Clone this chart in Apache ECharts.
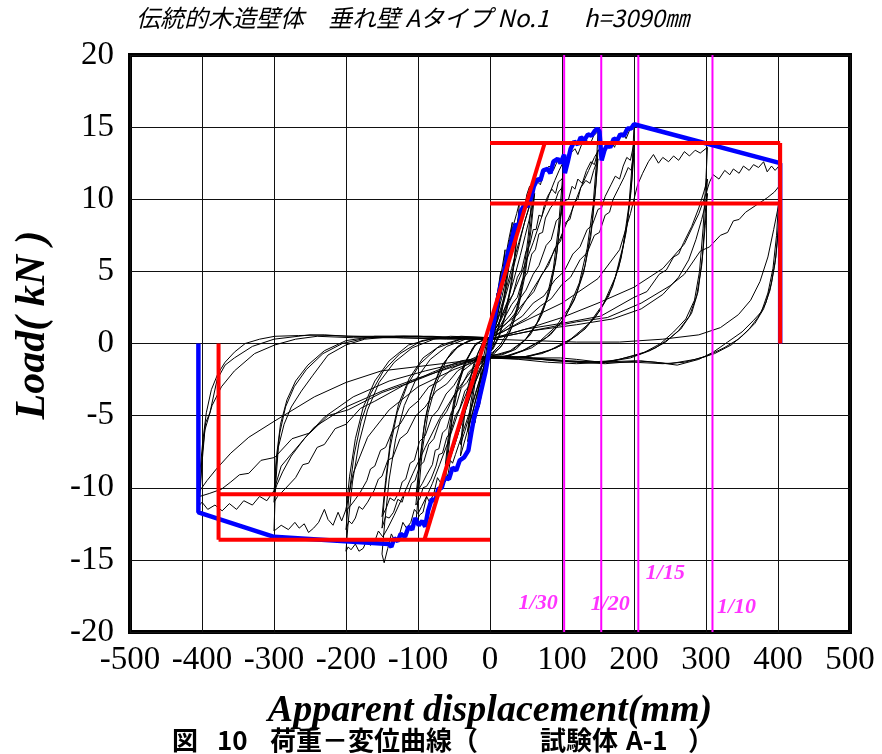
<!DOCTYPE html>
<html>
<head>
<meta charset="utf-8">
<script src="https://cdn.jsdelivr.net/npm/echarts@6/dist/echarts.min.js"></script>
<style>
html, body { margin: 0; padding: 0; background: #fff; }
#chart { width: 882px; height: 754px; }
</style>
</head>
<body>
<div id="chart"></div>
<script>
// Cyclic load test of a traditional timber wall: displacement (mm) vs load (kN).
// Each cycle: push to +peak, unload, push to -peak, unload back near the origin.
const cycA = [[0,0],[4,1.4],[7,2.5],[10,3.5],[8,2.5],[5,1.1],[2,0.1],[0,-0.3],[-4,-1.3],[-7,-2.3],[-10,-3.1],[-8,-2.1],[-5,-0.9],[-2,0.1],[0,0.3]];
const cycB = [[0,0.3],[5,1.8],[10,3.4],[15,5.0],[12,3.5],[8,1.6],[4,0.3],[0,-0.4],[-5,-1.6],[-10,-3.0],[-15,-4.4],[-12,-3.0],[-8,-1.4],[-4,-0.1],[0,0.3]];
const cycC = [[0,0.3],[6,1.9],[12,3.8],[17,5.3],[21,6.5],[17,4.5],[12,2.3],[6,0.6],[0,-0.4],[-6,-1.7],[-12,-3.2],[-17,-4.5],[-21,-5.5],[-17,-3.7],[-12,-1.7],[-6,-0.2],[0,0.3]];
const cycD1 = [[0,0.3],[8,2.2],[15,4.2],[21,5.8],[26,7.2],[31,8.4],[27,6.3],[21,3.8],[14,1.6],[7,0.3],[0,-0.5],[-8,-1.9],[-15,-3.5],[-21,-4.8],[-26,-5.9],[-31,-6.8],[-27,-4.9],[-21,-2.8],[-14,-1.0],[-6,0.1],[0,0.4]];
const cycD2 = [[0,0.4],[9,2.0],[17,3.9],[24,5.7],[31,7.6],[27,5.6],[20,3.1],[12,1.1],[4,-0.2],[0,-0.6],[-9,-1.8],[-17,-3.3],[-24,-4.8],[-31,-6.1],[-27,-4.2],[-20,-2.1],[-11,-0.5],[0,0.4]];
const cycE1 = [[0,0.4],[6,1.8],[12,3.4],[18,4.9],[24,6.4],[29,7.6],[33,8.3],[37,9.0],[41,9.8],[38,8.1],[34,6.0],[28,3.8],[20,1.8],[12,0.5],[4,-0.3],[0,-0.6],[-8,-1.7],[-16,-3.2],[-24,-4.7],[-31,-6.0],[-36,-6.9],[-41,-7.8],[-38,-6.1],[-33,-4.1],[-26,-2.2],[-17,-0.7],[-8,0.2],[0,0.4]];
const cycE2 = [[0,0.4],[8,1.6],[16,3.1],[24,4.9],[30,6.3],[35,7.5],[39,8.5],[41,9.0],[37,7.1],[31,4.5],[23,2.2],[13,0.5],[4,-0.4],[0,-0.6],[-10,-1.8],[-20,-3.5],[-28,-4.9],[-35,-6.1],[-41,-7.0],[-37,-5.2],[-31,-3.1],[-22,-1.3],[-11,0],[0,0.4]];
const cycF1 = [[0,0.4],[8,1.9],[16,3.6],[24,5.5],[30,6.8],[36,8.0],[41,9.0],[45,9.6],[48,9.3],[51,10.3],[55,10.9],[58,10.5],[60,11.3],[62,11.8],[58,10.0],[53,7.4],[46,4.6],[37,2.4],[26,0.9],[14,-0.1],[4,-0.6],[0,-0.7],[-10,-1.8],[-20,-3.4],[-30,-5.0],[-38,-6.2],[-44,-7.1],[-48,-7.7],[-52,-8.3],[-55,-8.1],[-58,-9.0],[-62,-9.6],[-58,-7.6],[-52,-5.0],[-44,-2.9],[-33,-1.2],[-20,-0.1],[-8,0.3],[0,0.4]];
const cycF2 = [[0,0.4],[10,1.5],[20,3.0],[30,4.8],[38,6.3],[44,7.6],[49,8.6],[53,9.2],[57,9.9],[60,10.4],[62,11.0],[57,8.5],[50,5.5],[41,3.0],[30,1.1],[17,-0.1],[6,-0.7],[0,-0.8],[-12,-1.7],[-24,-3.1],[-34,-4.6],[-42,-5.9],[-49,-7.0],[-55,-7.9],[-59,-8.4],[-62,-8.9],[-57,-6.6],[-49,-3.9],[-38,-1.8],[-24,-0.3],[-10,0.3],[0,0.4]];
const cycF3 = [[0,0.4],[12,1.4],[24,2.9],[34,4.6],[42,6.1],[49,7.5],[54,8.5],[58,9.4],[62,10.4],[57,7.9],[49,4.8],[39,2.4],[27,0.7],[14,-0.3],[0,-0.8],[-13,-1.6],[-26,-3.0],[-37,-4.6],[-46,-6.0],[-53,-7.2],[-58,-7.9],[-62,-8.4],[-57,-6.0],[-48,-3.3],[-36,-1.4],[-20,0],[0,0.4]];
const cycG1 = [[0,0.4],[10,1.6],[20,3.3],[30,5.2],[40,7.0],[48,8.4],[55,9.6],[60,10.6],[64,11.3],[70,11.0],[75,11.9],[82,12.3],[88,12.0],[94,12.7],[99,12.5],[103,13.1],[100,11.0],[95,8.0],[88,5.2],[78,3.0],[65,1.4],[48,0.2],[30,-0.5],[12,-0.8],[0,-0.8],[-12,-1.6],[-25,-3.3],[-37,-5.1],[-47,-6.7],[-55,-7.9],[-62,-8.9],[-68,-9.7],[-73,-9.3],[-78,-10.4],[-84,-11.0],[-88,-10.6],[-93,-11.7],[-98,-11.9],[-103,-12.5],[-99,-10.2],[-94,-7.4],[-86,-4.8],[-75,-2.8],[-60,-1.1],[-42,-0.1],[-22,0.3],[0,0.4]];
const cycG2 = [[0,0.4],[12,1.4],[25,2.9],[32,3.4],[38,4.6],[44,5.1],[50,6.4],[55,6.8],[60,7.9],[64,7.9],[68,8.9],[72,8.8],[75,9.5],[80,10.2],[86,10.7],[91,10.4],[95,11.2],[100,11.4],[103,11.8],[99,9.4],[93,6.3],[84,3.8],[72,2.0],[56,0.6],[36,-0.4],[16,-0.8],[0,-0.8],[-14,-1.4],[-28,-2.9],[-35,-3.3],[-42,-4.5],[-48,-5.0],[-55,-6.2],[-60,-6.5],[-66,-7.6],[-71,-7.7],[-75,-8.5],[-82,-9.4],[-88,-9.9],[-93,-10.0],[-97,-10.7],[-103,-11.2],[-98,-8.6],[-92,-5.9],[-83,-3.6],[-70,-1.8],[-52,-0.5],[-30,0.2],[0,0.4]];
const cycG3 = [[0,0.4],[15,1.3],[30,2.7],[38,3.2],[45,4.4],[52,4.9],[58,6.2],[63,6.5],[68,7.6],[73,7.7],[77,8.7],[84,9.4],[90,9.8],[95,10.5],[100,10.8],[103,11.2],[98,8.6],[91,5.6],[81,3.3],[68,1.6],[50,0.3],[28,-0.5],[0,-0.9],[-16,-1.3],[-32,-2.7],[-40,-3.1],[-47,-4.3],[-54,-4.8],[-60,-5.9],[-66,-6.2],[-71,-7.3],[-76,-7.4],[-80,-8.4],[-88,-9.1],[-94,-9.7],[-99,-10.1],[-103,-10.6],[-97,-7.9],[-90,-5.2],[-80,-3.1],[-65,-1.4],[-45,-0.2],[-22,0.3],[0,0.4]];
const cycH1 = [[0,0.4],[15,1.6],[30,3.2],[45,5.0],[60,7.0],[72,8.8],[82,10.3],[90,11.3],[96,12.0],[102,12.6],[107,12.3],[112,13.2],[118,13.5],[122,13.1],[128,13.9],[134,14.1],[139,13.8],[144,14.4],[150,14.7],[148,12.6],[143,9.5],[135,6.6],[124,4.2],[110,2.5],[92,1.2],[70,0.2],[45,-0.5],[20,-0.9],[0,-0.9],
  [-15,-1.5],[-30,-3.1],[-45,-4.9],[-58,-6.8],[-70,-8.4],[-80,-9.7],[-88,-10.6],[-95,-11.3],[-100,-11.8],[-105,-11.5],[-110,-12.4],[-116,-12.8],[-121,-12.4],[-126,-13.3],[-132,-13.7],[-137,-13.2],[-142,-14.2],[-147,-15.2],[-150,-14.6],[-146,-12.3],[-140,-9.4],[-131,-6.6],[-119,-4.3],[-103,-2.5],[-83,-1.1],[-60,-0.2],[-34,0.3],[0,0.4]];
const cycH2 = [[0,0.4],[10,0.9],[20,1.5],[30,2.1],[40,3.0],[50,3.7],[60,4.8],[68,5.4],[78,6.8],[85,7.2],[92,8.5],[98,8.8],[104,9.9],[109,10.0],[114,10.9],[118,10.7],[122,11.4],[128,11.1],[134,12.0],[140,12.6],[145,12.4],[150,13.4],[147,11.0],[141,8.0],[132,5.4],[120,3.4],[104,1.8],[84,0.6],[58,-0.3],[30,-0.8],[0,-1.0],
  [-10,-0.9],[-20,-1.5],[-30,-2.0],[-40,-3.0],[-50,-3.6],[-60,-4.7],[-69,-5.3],[-78,-6.6],[-85,-7.0],[-92,-8.2],[-98,-8.5],[-104,-9.5],[-109,-9.7],[-114,-10.5],[-118,-10.3],[-122,-11.0],[-128,-10.8],[-134,-11.7],[-140,-12.1],[-145,-12.0],[-150,-12.8],[-146,-10.3],[-139,-7.3],[-129,-4.8],[-115,-2.9],[-97,-1.4],[-73,-0.3],[-40,0.3],[0,0.4]];
const cycH3 = [[0,0.4],[12,0.9],[25,1.5],[38,2.0],[50,3.0],[61,3.6],[72,4.8],[81,5.4],[90,6.6],[98,7.1],[105,8.4],[111,8.6],[117,9.8],[122,10.0],[126,10.8],[133,11.3],[139,11.1],[144,12.0],[150,12.8],[146,10.3],[140,7.4],[130,4.9],[117,3.0],[100,1.5],[78,0.4],[50,-0.4],[24,-0.9],[0,-1.0],
  [-12,-0.9],[-25,-1.4],[-38,-1.9],[-50,-2.9],[-61,-3.5],[-72,-4.6],[-81,-5.1],[-90,-6.4],[-98,-6.8],[-105,-8.1],[-111,-8.3],[-117,-9.4],[-122,-9.6],[-126,-10.3],[-133,-10.9],[-139,-10.7],[-144,-11.4],[-150,-12.0],[-145,-9.5],[-138,-6.6],[-127,-4.2],[-112,-2.4],[-93,-1.0],[-68,-0.1],[-35,0.4],[0,0.4]];
const cycI1 = [[0,0.4],[25,1.5],[50,3.0],[75,5.0],[95,7.0],[112,9.0],[126,10.8],[137,12.0],[145,12.9],[152,13.5],[158,13.1],[163,13.8],[168,14.0],[173,13.6],[178,14.4],[184,14.6],[189,14.2],[194,14.8],[200,15.1],[198,12.8],[193,9.6],[185,6.8],[174,4.6],[158,2.8],[138,1.4],[112,0.3],[82,-0.5],[50,-0.9],[20,-1.0],[0,-0.9],
  [-20,-1.5],[-45,-3.2],[-70,-5.2],[-90,-7.2],[-107,-9.0],[-121,-10.6],[-133,-11.9],[-142,-12.8],[-149,-13.4],[-155,-13.0],[-160,-13.7],[-166,-14.0],[-171,-13.6],[-176,-14.2],[-182,-14.4],[-187,-13.9],[-193,-14.3],[-197,-14.1],[-200,-14.4],[-197,-12.4],[-191,-9.6],[-182,-6.9],[-170,-4.6],[-154,-2.7],[-133,-1.3],[-108,-0.3],[-78,0.3],[-40,0.5],[0,0.4]];
const cycI2 = [[0,0.4],[15,0.8],[30,1.4],[45,1.9],[60,2.8],[75,3.3],[90,4.4],[103,5.0],[115,6.2],[125,6.7],[135,7.9],[142,8.2],[150,9.3],[155,9.4],[160,10.2],[168,11.0],[174,11.6],[180,11.4],[185,12.3],[190,12.9],[195,12.7],[200,13.9],[197,11.4],[191,8.4],[182,5.9],[170,3.9],[153,2.3],[132,1.0],[105,0],[72,-0.7],[38,-1.0],[0,-1.0],
  [-15,-0.9],[-30,-1.4],[-45,-1.9],[-60,-2.8],[-75,-3.3],[-90,-4.4],[-103,-5.0],[-115,-6.2],[-125,-6.6],[-135,-7.9],[-142,-8.1],[-150,-9.2],[-155,-9.4],[-161,-10.2],[-170,-11.0],[-177,-11.5],[-182,-11.3],[-187,-12.1],[-192,-12.5],[-196,-12.3],[-200,-12.9],[-196,-10.6],[-189,-7.8],[-179,-5.4],[-166,-3.5],[-148,-1.9],[-125,-0.7],[-95,0.2],[-55,0.5],[0,0.4]];
const cycI3 = [[0,0.4],[18,0.8],[35,1.3],[52,1.8],[70,2.6],[85,3.1],[100,4.1],[112,4.6],[125,5.8],[135,6.3],[145,7.5],[152,7.7],[160,8.9],[166,9.1],[171,10.0],[180,10.9],[186,11.5],[192,12.2],[196,12.0],[200,13.2],[196,10.6],[189,7.7],[179,5.3],[165,3.3],[146,1.8],[122,0.6],[92,-0.3],[55,-0.9],[0,-1.0],
  [-18,-0.9],[-35,-1.3],[-52,-1.7],[-70,-2.6],[-85,-3.0],[-100,-4.0],[-112,-4.5],[-125,-5.6],[-135,-6.0],[-145,-7.2],[-152,-7.4],[-160,-8.5],[-166,-8.7],[-171,-9.5],[-180,-10.3],[-187,-10.8],[-193,-11.2],[-200,-11.6],[-195,-9.2],[-187,-6.6],[-176,-4.4],[-160,-2.6],[-140,-1.2],[-113,-0.1],[-75,0.4],[0,0.4]];
const cycJ1 = [[0,0.4],[50,1.6],[100,2.8],[150,4.5],[180,6.5],[195,9.0],[205,11.0],[212,11.8],[220,12.6],[227,13.1],[234,12.5],[240,12.9],[248,12.6],[255,13.0],[262,12.7],[270,13.3],[277,13.0],[285,13.4],[292,13.2],[302,13.6],[300,11.5],[296,8.0],[291,5.0],[284,3.0],[272,1.7],[255,0.8],[237,0],[215,-0.6],[180,-1.1],[154,-1.3],[120,-1.1],[98,-1.0],[60,-1.0],[30,-0.9],[0,-0.9],
  [-50,-1.8],[-100,-3.0],[-140,-4.6],[-170,-6.5],[-190,-9.0],[-200,-11.5],[-206,-12.3],[-211,-11.7],[-218,-12.6],[-225,-12.2],[-230,-11.5],[-238,-12.4],[-245,-12.8],[-252,-13.1],[-258,-12.5],[-265,-12.8],[-271,-12.4],[-280,-12.9],[-290,-12.6],[-300,-13.0],[-298,-10.0],[-294,-7.2],[-286,-5.6],[-276,-4.4],[-262,-3.3],[-246,-2.2],[-225,-0.8],[-200,-0.1],[-174,0.3],[-130,0.5],[-80,0.5],[-40,0.4],[0,0.3]];
const cycJ2 = [[0,0.3],[50,1.0],[100,1.4],[154,1.9],[200,3.2],[218,3.6],[235,4.8],[245,5.1],[255,6.0],[262,6.2],[269,7.0],[280,8.1],[290,9.4],[297,10.5],[302,11.4],[299,9.0],[295,6.0],[289,3.6],[280,2.1],[265,1.0],[248,0.3],[230,-0.3],[205,-0.8],[170,-1.2],[130,-1.3],[90,-1.2],[50,-1.0],[0,-0.9],
  [-40,-1.2],[-80,-2.0],[-120,-2.9],[-160,-4.0],[-180,-4.5],[-200,-5.6],[-215,-5.9],[-230,-7.0],[-240,-7.2],[-252,-8.3],[-260,-8.4],[-270,-9.3],[-285,-10.1],[-295,-10.6],[-300,-11.0],[-297,-8.5],[-292,-6.2],[-284,-4.4],[-272,-3.0],[-255,-1.8],[-232,-0.7],[-205,0],[-170,0.4],[-120,0.5],[-60,0.4],[0,0.3]];
const cycJ3 = [[0,0.3],[60,0.9],[120,1.3],[170,1.7],[210,2.4],[240,3.4],[262,4.6],[276,5.8],[286,7.2],[294,8.6],[299,9.6],[302,10.4],[299,8.2],[294,5.4],[287,3.3],[277,1.9],[262,0.9],[244,0.1],[222,-0.5],[195,-1.0],[160,-1.3],[120,-1.4],[80,-1.3],[40,-1.1],[0,-1.0],
  [-40,-1.3],[-90,-1.9],[-140,-2.6],[-190,-3.7],[-230,-5.1],[-258,-6.6],[-276,-7.8],[-288,-8.9],[-296,-9.8],[-300,-10.4],[-297,-8.0],[-291,-5.6],[-282,-3.9],[-270,-2.6],[-253,-1.5],[-230,-0.5],[-200,0.2],[-160,0.5],[-100,0.5],[-50,0.4],[0,0.3]];
const cycK1 = [[0,0.3],[50,1.0],[100,1.8],[150,2.8],[200,3.9],[240,5.2],[270,6.9],[290,9.0],[300,10.4],[305,11.2],[310,11.7],[318,11.4],[326,12.0],[333,11.7],[338,12.1],[346,11.8],[352,12.3],[360,12.0],[366,12.4],[373,12.2],[380,12.6],[385,11.9],[391,12.3],[396,12.0],[403,12.4],[401,10.0],[398,7.5],[393,5.2],[386,3.5],[377,2.2],[366,1.6],[350,0.8],[330,0.1],[310,-0.6],[290,-1.1],[260,-1.5],[230,-1.3],[200,-1.2],[150,-1.3],[110,-1.2],[60,-1.0],[0,-0.9],
  [-50,-1.6],[-100,-2.4],[-150,-3.3],[-200,-4.4],[-244,-5.8],[-275,-7.6],[-290,-8.5],[-300,-10.2],[-310,-10.9],[-320,-10.6],[-330,-11.2],[-342,-10.9],[-352,-11.5],[-362,-11.1],[-372,-11.6],[-382,-11.2],[-392,-11.5],[-400,-11.0],[-405,-11.3],[-403,-9.0],[-399,-6.8],[-394,-4.8],[-387,-3.2],[-378,-2.1],[-368,-1.3],[-355,-0.6],[-340,0],[-320,0.3],[-299,0.5],[-266,0.55],[-230,0.6],[-197,0.5],[-150,0.5],[-100,0.5],[-50,0.4],[0,0.3]];
const cycK2 = [[0,0.3],[60,0.9],[120,1.5],[163,1.8],[210,2.8],[250,4.0],[270,4.8],[292,6.4],[305,6.7],[320,7.5],[330,7.7],[338,8.5],[346,8.6],[355,9.1],[370,9.6],[385,10.1],[395,10.5],[403,11.0],[401,8.5],[397,6.0],[391,4.2],[383,2.8],[372,1.8],[360,1.0],[345,0.3],[325,-0.3],[300,-0.9],[270,-1.3],[240,-1.4],[200,-1.3],[150,-1.3],[100,-1.2],[50,-1.0],[0,-0.9],
  [-50,-1.5],[-105,-2.6],[-150,-3.4],[-197,-4.6],[-225,-5.0],[-250,-6.2],[-275,-6.6],[-299,-7.9],[-318,-8.1],[-335,-9.0],[-348,-9.1],[-360,-9.6],[-373,-10.1],[-390,-10.4],[-403,-10.6],[-400,-8.3],[-396,-6.0],[-386,-4.3],[-373,-3.0],[-355,-1.9],[-327,-0.7],[-299,-0.1],[-270,0.3],[-240,0.5],[-190,0.4],[-130,0.4],[-60,0.3],[0,0.3]];
const cycK3 = [[0,0.3],[60,0.2],[120,0.1],[180,0.1],[240,0.3],[290,0.6],[320,1.1],[345,2.0],[362,3.0],[375,4.3],[386,6.0],[394,7.9],[400,9.4],[403,10.3],[401,8.0],[396,5.6],[389,3.7],[380,2.4],[368,1.4],[352,0.6],[335,-0.1],[312,-0.7],[285,-1.1],[250,-1.4],[209,-1.2],[160,-1.4],[120,-1.3],[70,-1.1],[0,-1.0],
  [-50,-1.3],[-100,-1.6],[-151,-1.9],[-200,-2.7],[-244,-3.7],[-300,-5.4],[-335,-6.5],[-360,-7.6],[-380,-8.7],[-393,-9.5],[-403,-10.2],[-400,-7.8],[-395,-5.5],[-389,-4.8],[-379,-2.5],[-368,-1.5],[-355,-1.0],[-330,-0.2],[-300,0.3],[-250,0.6],[-190,0.5],[-120,0.4],[0,0.3]];

const hysteresisCycles = [cycA, cycB, cycC, cycD1, cycD2, cycE1, cycE2, cycF1, cycF2, cycF3,
  cycG1, cycG2, cycG3, cycH1, cycH2, cycH3, cycI1, cycI2, cycI3, cycJ1, cycJ2, cycJ3, cycK1, cycK2, cycK3];

// Envelope (skeleton) curves, traced outward from the origin
const envelopePos = [[0,0],[4,1.1],[9,2.6],[15,4.1],[20,5.0],[25,6.3],[29,6.9],[33,7.8],[36,8.3],[40,8.0],[43,9.2],[48,9.6],[52,9.5],[57,10.1],[61,10.9],[66,11.4],[70,11.3],[74,12.0],[80,12.1],[84,11.8],[88,12.6],[94,12.8],[98,12.5],[103,13.1],[104,11.8],[108,12.6],[112,13.5],[117,14.0],[122,13.8],[126,14.3],[131,14.1],[136,14.5],[141,14.4],[145,14.7],[149,14.9],[152,14.7],[155,12.7],[159,13.4],[163,13.8],[167,13.6],[172,14.2],[177,14.1],[181,14.5],[186,14.4],[191,14.9],[196,14.9],[200,15.2],[403,12.5],[403,0]];
const envelopeNeg = [[0,0],[-1,-0.5],[-6,-1.9],[-12,-3.2],[-17,-4.3],[-22,-5.1],[-26,-6.2],[-30,-7.4],[-36,-7.9],[-42,-8.1],[-47,-8.8],[-52,-8.6],[-57,-9.4],[-63,-9.3],[-67,-10.0],[-72,-10.1],[-76,-10.9],[-81,-10.8],[-86,-11.6],[-90,-12.7],[-94,-12.3],[-99,-12.6],[-104,-12.1],[-108,-12.9],[-113,-12.7],[-118,-13.4],[-124,-13.2],[-128,-13.7],[-133,-13.5],[-137,-14.1],[-141,-13.9],[-300,-13.4],[-405,-11.7],[-405,0]];

// Bilinear (trilinear) idealisation
const bilinearPosLevels = [13.9, 9.7];
const bilinearPosLimit = 403;
const bilinearNegLevels = [-13.6, -10.45];
const bilinearNegLimit = -377;
const initialStiffnessLine = [[-91, -13.6], [76, 13.9]];

// Storey drift reference lines (wall height h = 3090 mm)
const wallHeight = 3090;
const driftRatios = [30, 20, 15, 10];

// Axes
const xAxisRange = { min: -500, max: 500, step: 100 };
const yAxisRange = { min: -20, max: 20, step: 5 };

// ---- layout / styling ----
const driftLabelPlace = { 30: { y: -18.0, dx: -26 }, 20: { y: -18.1, dx: 9 }, 15: { y: -15.9, dx: 27 }, 10: { y: -18.3, dx: 24 } };
const serif = '"Liberation Serif", "Times New Roman", serif';

const series = [];
hysteresisCycles.forEach(function (c) {
  series.push({ type: 'line', data: c, symbol: 'none', silent: true, z: 2,
    lineStyle: { color: '#000', width: 1 } });
});
driftRatios.forEach(function (n) {
  const d = wallHeight / n;
  series.push({ type: 'line', data: [[d, yAxisRange.min], [d, yAxisRange.max]], symbol: 'none', silent: true, z: 3,
    lineStyle: { color: '#ff00ff', width: 2 } });
  const p = driftLabelPlace[n];
  series.push({ type: 'scatter', data: [[d, p.y]], symbolSize: 0, silent: true, z: 6,
    label: { show: true, position: 'inside', offset: [p.dx, 0], formatter: '1/' + n,
      color: '#ff00ff', fontFamily: serif, fontStyle: 'italic', fontWeight: 'bold', fontSize: 22 } });
});
series.push({ type: 'line', data: envelopeNeg.slice().reverse().concat(envelopePos.slice(1)), symbol: 'none', silent: true, z: 4,
  lineStyle: { color: '#0000ff', width: 4.5 } });

function redLine(pts) {
  series.push({ type: 'line', data: pts, symbol: 'none', silent: true, z: 5,
    lineStyle: { color: '#ff0000', width: 4 } });
}
bilinearPosLevels.forEach(function (v) { redLine([[0, v], [bilinearPosLimit, v]]); });
redLine([[bilinearPosLimit, bilinearPosLevels[0]], [bilinearPosLimit, 0]]);
bilinearNegLevels.forEach(function (v) { redLine([[bilinearNegLimit, v], [0, v]]); });
redLine([[bilinearNegLimit, 0], [bilinearNegLimit, bilinearNegLevels[0]]]);
redLine(initialStiffnessLine);

const jpFont = '"Noto Sans CJK JP"';
const chart = echarts.init(document.getElementById('chart'), null, { renderer: 'canvas' });
chart.setOption({
  animation: false,
  backgroundColor: '#fff',
  grid: { left: 130, right: 32, top: 55, bottom: 122, show: true, borderColor: '#000', borderWidth: 4, backgroundColor: 'transparent' },
  xAxis: {
    type: 'value', min: xAxisRange.min, max: xAxisRange.max, interval: xAxisRange.step,
    axisLine: { show: false }, axisTick: { show: false },
    splitLine: { show: true, lineStyle: { color: '#111', width: 1 } },
    axisLabel: { color: '#000', fontFamily: serif, fontSize: 33, margin: 12 }
  },
  yAxis: {
    type: 'value', min: yAxisRange.min, max: yAxisRange.max, interval: yAxisRange.step,
    axisLine: { show: false }, axisTick: { show: false },
    splitLine: { show: true, lineStyle: { color: '#111', width: 1 } },
    axisLabel: { color: '#000', fontFamily: serif, fontSize: 33, margin: 16 }
  },
  graphic: [
    { type: 'text', left: 136, top: 6, z: 10,
      style: { text: '伝統的木造壁体　垂れ壁 Aタイプ No.1　  h=3090㎜', fill: '#000',
        font: 'italic 24px ' + jpFont } },
    { type: 'text', x: 33, y: 325, rotation: Math.PI / 2, z: 10,
      style: { text: 'Load( kN )', fill: '#000', align: 'center', verticalAlign: 'middle',
        font: 'italic bold 42px ' + serif } },
    { type: 'text', x: 490, y: 711, z: 10,
      style: { text: 'Apparent displacement(mm)', fill: '#000', align: 'center', verticalAlign: 'middle',
        font: 'italic bold 38px ' + serif } },
    // figure caption, laid out piece by piece
    { type: 'group', z: 11, children: [
      { type: 'text', x: 172, y: 740, style: { text: '図', fill: '#000', verticalAlign: 'middle', font: 'bold 26px ' + jpFont } },
      { type: 'text', x: 217, y: 740, style: { text: '10', fill: '#000', verticalAlign: 'middle', font: 'bold 26px ' + jpFont } },
      { type: 'text', x: 270, y: 740, style: { text: '荷重－変位曲線（', fill: '#000', verticalAlign: 'middle', font: 'bold 26px ' + jpFont } },
      { type: 'text', x: 540, y: 740, style: { text: '試験体', fill: '#000', verticalAlign: 'middle', font: 'bold 26px ' + jpFont } },
      { type: 'text', x: 626, y: 740, style: { text: 'A-1', fill: '#000', verticalAlign: 'middle', font: 'bold 26px ' + jpFont } },
      { type: 'text', x: 688, y: 740, style: { text: '）', fill: '#000', verticalAlign: 'middle', font: 'bold 26px ' + jpFont } }
    ] }
  ],
  series: series
});
</script>
</body>
</html>
